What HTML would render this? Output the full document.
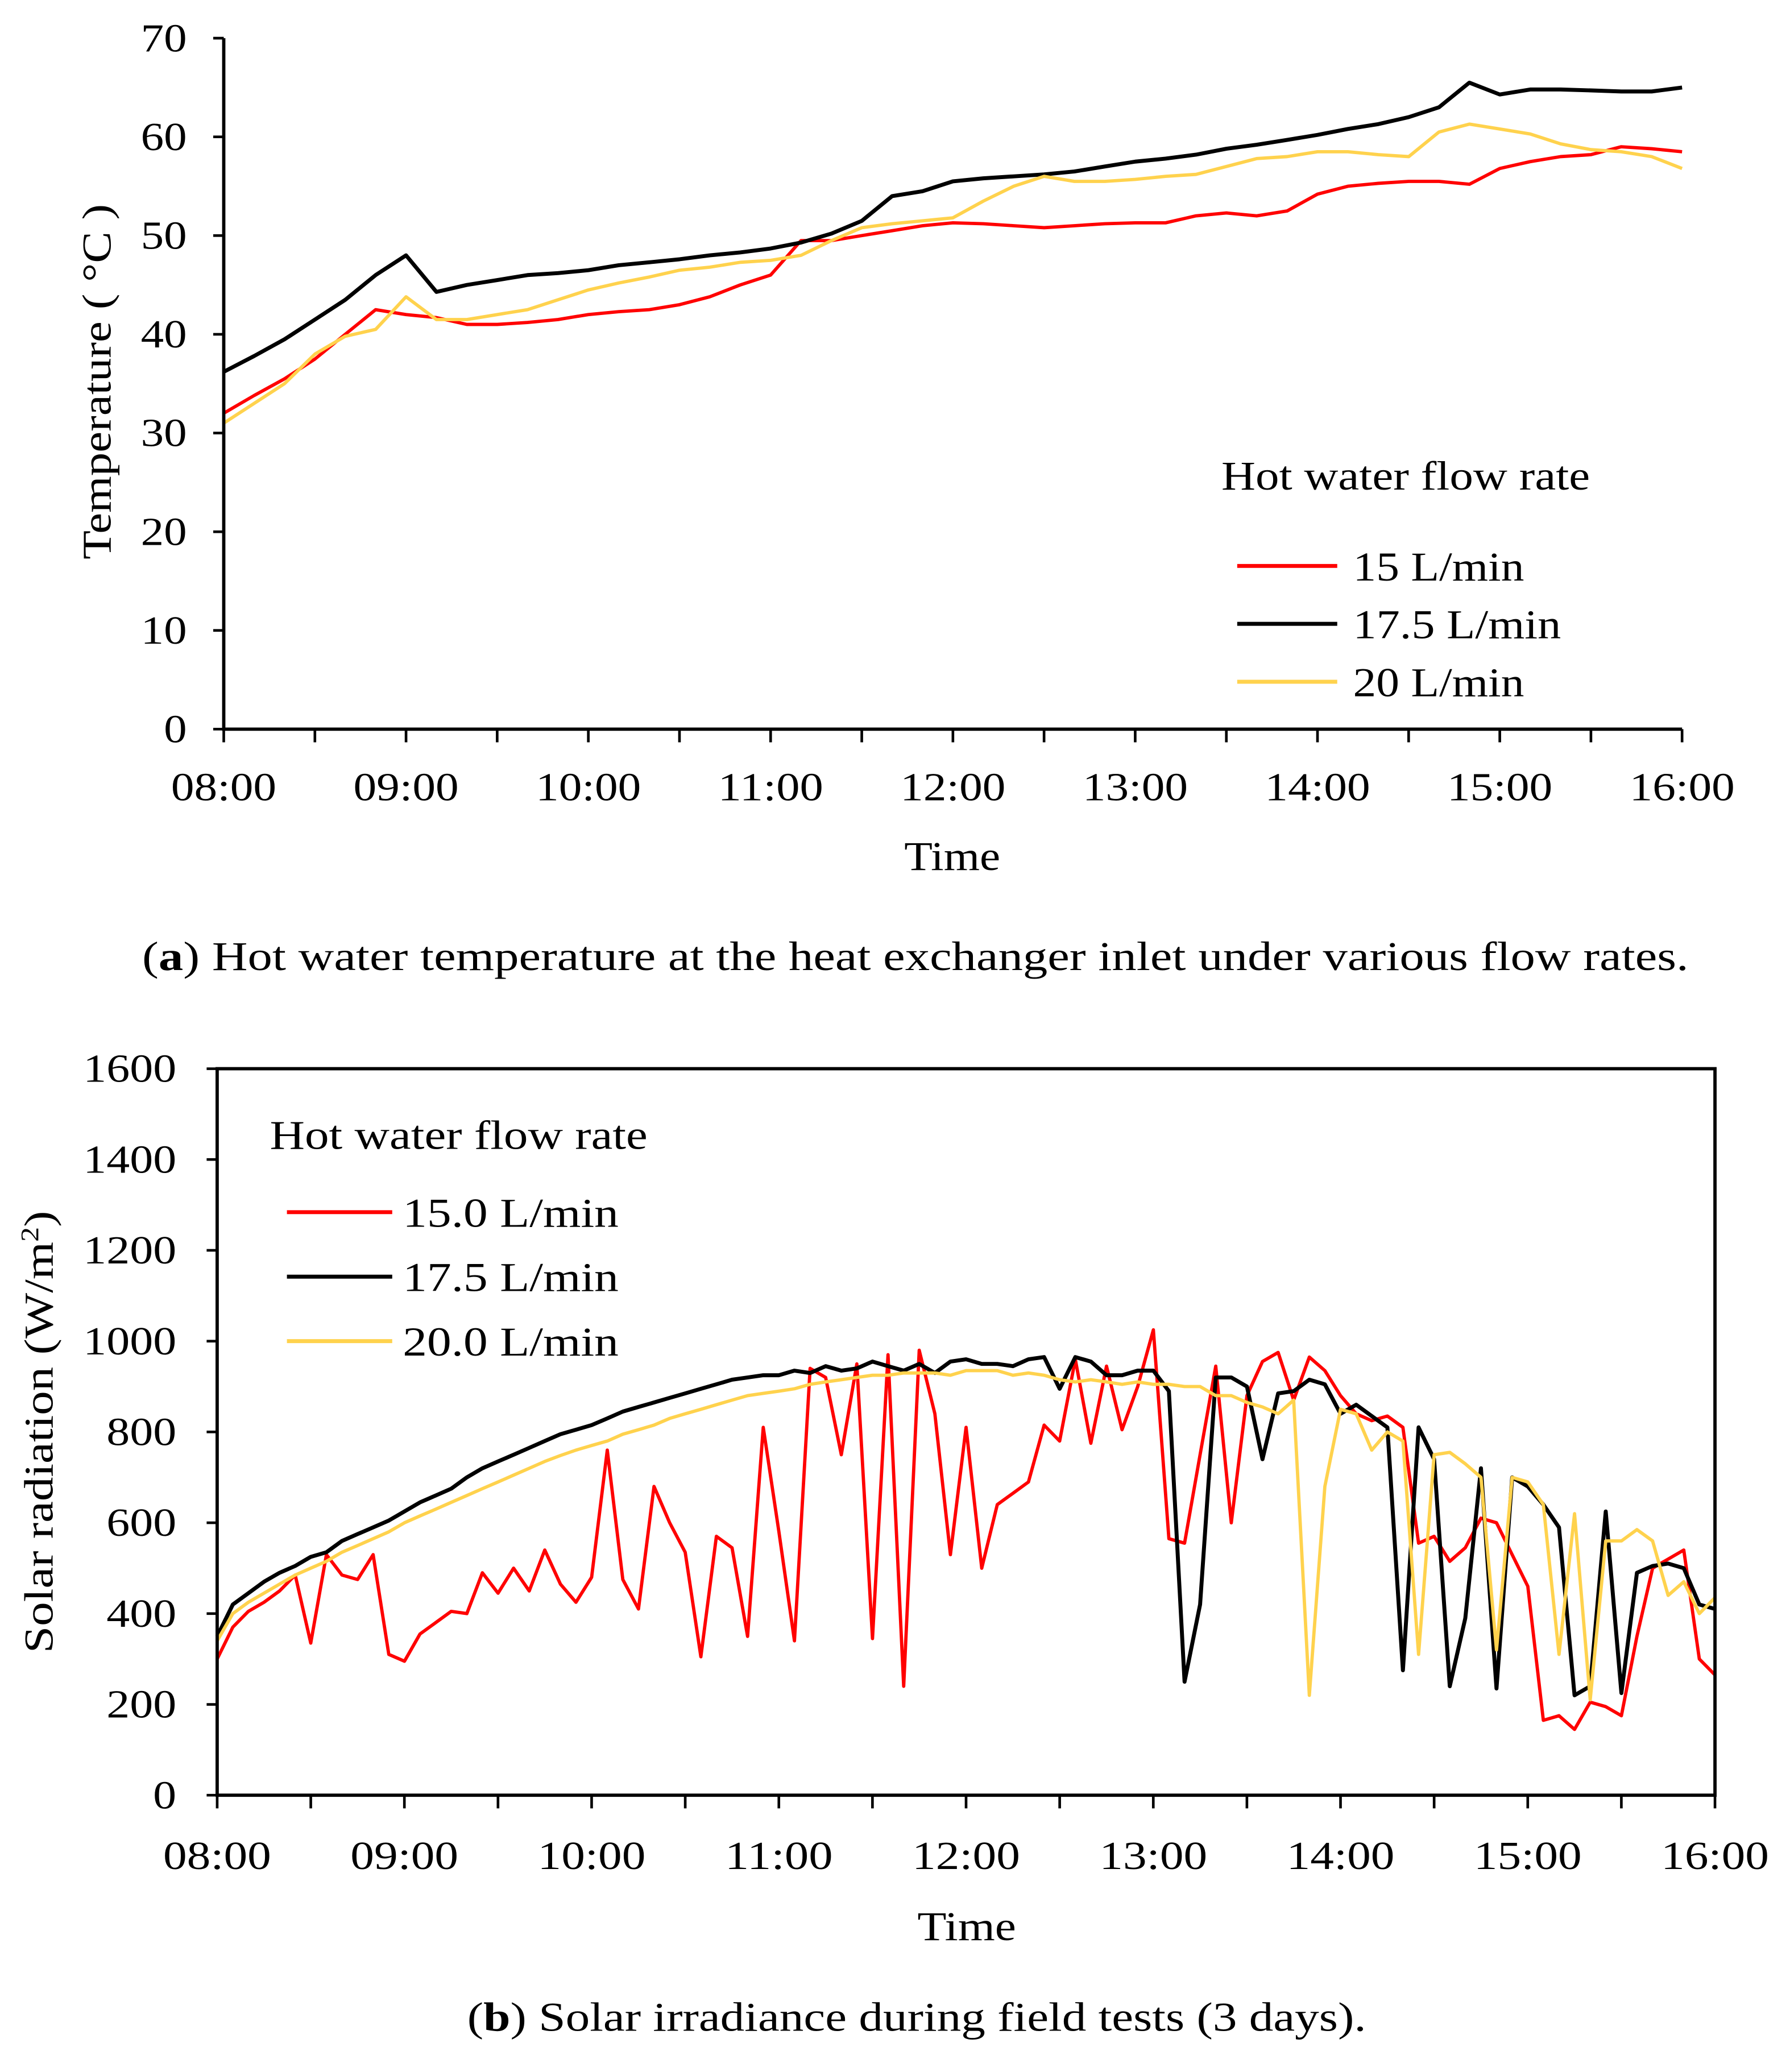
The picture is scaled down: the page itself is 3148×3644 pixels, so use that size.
<!DOCTYPE html>
<html><head><meta charset="utf-8"><style>
html,body{margin:0;padding:0;background:#fff;}
svg{display:block;}
text{font-family:"Liberation Serif","DejaVu Serif",serif;fill:#000;}
</style></head><body>
<svg id="root" width="3148" height="3644" viewBox="0 0 1360 1574.3" preserveAspectRatio="none" xmlns="http://www.w3.org/2000/svg">
<g id="chartA"></g>
<g id="chartB"></g>
<text x="108" y="737" font-size="31" textLength="1175" lengthAdjust="spacingAndGlyphs">(<tspan font-weight="bold">a</tspan>) Hot water temperature at the heat exchanger inlet under various flow rates.</text>
<text x="355" y="1543" font-size="31" textLength="683" lengthAdjust="spacingAndGlyphs">(<tspan font-weight="bold">b</tspan>) Solar irradiance during field tests (3 days).</text>
</svg>
<script>
// ---- Chart A data (10-minute steps from 08:00) ----
const aTimeLabels = ["08:00","09:00","10:00","11:00","12:00","13:00","14:00","15:00","16:00"];
const aYTicks = [0,10,20,30,40,50,60,70];
const aRed = [32,33.8,35.5,37.5,40,42.5,42,41.7,41,41,41.2,41.5,42,42.3,42.5,43,43.8,45,46,49.5,49.5,50,50.5,51,51.3,51.2,51,50.8,51,51.2,51.3,51.3,52,52.3,52,52.5,54.2,55,55.3,55.5,55.5,55.2,56.8,57.5,58,58.2,59,58.8,58.5];
const aBlack = [36.2,37.8,39.5,41.5,43.5,46,48,44.3,45,45.5,46,46.2,46.5,47,47.3,47.6,48,48.3,48.7,49.3,50.2,51.5,54,54.5,55.5,55.8,56,56.2,56.5,57,57.5,57.8,58.2,58.8,59.2,59.7,60.2,60.8,61.3,62,63,65.5,64.3,64.8,64.8,64.7,64.6,64.6,65];
const aYellow = [31,33,35,38,39.8,40.5,43.8,41.5,41.5,42,42.5,43.5,44.5,45.2,45.8,46.5,46.8,47.3,47.5,48,49.5,50.8,51.2,51.5,51.8,53.5,55,56,55.5,55.5,55.7,56,56.2,57,57.8,58,58.5,58.5,58.2,58,60.5,61.3,60.8,60.3,59.3,58.7,58.5,58,56.8];
const aSeriesNames = ["15 L/min","17.5 L/min","20 L/min"];

// ---- Chart B data (5-minute steps from 08:00) ----
const bTimeLabels = ["08:00","09:00","10:00","11:00","12:00","13:00","14:00","15:00","16:00"];
const bYTicks = [0,200,400,600,800,1000,1200,1400,1600];
const bRed = [300,370,405,425,450,485,335,530,485,475,530,310,
 295,355,380,405,400,490,445,500,450,540,465,425,
 480,760,475,410,680,600,535,305,570,545,350,810,
 580,340,940,920,750,950,345,970,240,980,840,530,
 810,500,640,665,690,815,780,960,775,945,805,900,
 1025,565,555,750,945,600,880,955,975,870,965,935,
 880,840,825,835,810,555,570,515,545,610,600,530,
 460,165,175,145,205,195,175,350,500,520,540,300,265];
const bBlack = [350,420,445,470,490,505,525,535,560,575,590,605,
 625,645,660,675,700,720,735,750,765,780,795,805,
 815,830,845,855,865,875,885,895,905,915,920,925,
 925,935,930,945,935,940,955,945,935,950,930,955,
 960,950,950,945,960,965,895,965,955,925,925,935,
 935,890,250,420,920,920,900,740,885,890,915,905,
 840,860,835,810,275,810,740,240,390,720,235,700,
 680,640,590,220,240,625,225,490,505,510,500,420,410];
const bYellow = [340,400,425,445,465,485,500,515,535,550,565,580,
 600,615,630,645,660,675,690,705,720,735,748,760,
 770,780,795,805,815,830,840,850,860,870,880,885,
 890,895,905,910,915,920,925,925,930,930,930,925,
 935,935,935,925,930,925,915,910,915,910,905,910,
 905,905,900,900,880,880,865,855,840,870,220,680,
 850,840,760,800,780,310,750,755,730,700,320,700,
 690,640,310,620,210,560,560,585,560,440,470,400,435];
const bSeriesNames = ["15.0 L/min","17.5 L/min","20.0 L/min"];

const NS="http://www.w3.org/2000/svg";
function mk(parent,tag,attrs){const e=document.createElementNS(NS,tag);for(const k in attrs)e.setAttribute(k,attrs[k]);parent.appendChild(e);return e;}
const colors=["#ff0000","#000000","#ffd24d"];

// ===== Chart A =====
(function(){
 const g=document.getElementById('chartA');
 const x0=170,x1=1278,y0=554,y1=29;
 const xs=h=>x0+(h/8)*(x1-x0);
 const ys=v=>y0-(v/70)*(y0-y1);
 const series=[aRed,aBlack,aYellow];
 series.forEach((arr,si)=>{
  const d=arr.map((v,i)=>(i?'L':'M')+xs(i/6).toFixed(1)+','+ys(v).toFixed(1)).join('');
  const p=mk(g,'path',{d:d,fill:'none',stroke:colors[si],'stroke-width':si==1?3:2.5,'stroke-linejoin':'round'});
  
  
 });
 const ax=mk(g,'path',{d:`M${x0},${y1}L${x0},${y0}L${x1},${y0}`,fill:'none',stroke:'#000','stroke-width':2.5});
 
 
 aYTicks.forEach(v=>{
  mk(g,'line',{x1:x0-8,x2:x0,y1:ys(v),y2:ys(v),stroke:'#000','stroke-width':2});
  const t=mk(g,'text',{x:x0-28,y:ys(v)+10,'font-size':30,'text-anchor':'end',textLength:String(v).length*17.5,lengthAdjust:'spacingAndGlyphs'});t.textContent=v;
  
  
 });
 for(let i=0;i<=16;i++){mk(g,'line',{x1:xs(i/2),x2:xs(i/2),y1:y0,y2:y0+10,stroke:'#000','stroke-width':2});}
 aTimeLabels.forEach((s,i)=>{
  const t=mk(g,'text',{x:xs(i)-40,y:608,'font-size':30,textLength:80,lengthAdjust:'spacingAndGlyphs'});t.textContent=s;
  
  
 });
 const xt=mk(g,'text',{x:687,y:661,'font-size':31,textLength:73,lengthAdjust:'spacingAndGlyphs'});xt.textContent='Time';
 
 
 const yt=mk(g,'text',{x:-135,y:0,'font-size':31,textLength:270,lengthAdjust:'spacingAndGlyphs',transform:'translate(84,290) rotate(-90)'});yt.textContent='Temperature ( °C )';
 
 
 const lt=mk(g,'text',{x:928,y:372,'font-size':31,textLength:280,lengthAdjust:'spacingAndGlyphs'});lt.textContent='Hot water flow rate';
 
 
 const aw=[130,158,130];
 aSeriesNames.forEach((s,i)=>{
  const y=430+i*44;
  const l=mk(g,'line',{x1:940,x2:1016,y1:y,y2:y,stroke:colors[i],'stroke-width':3});
  
  
  const t=mk(g,'text',{x:1028,y:y+11,'font-size':31,textLength:aw[i],lengthAdjust:'spacingAndGlyphs'});t.textContent=s;
  
  
 });
})();

// ===== Chart B =====
(function(){
 const g=document.getElementById('chartB');
 const x0=165,x1=1303,y0=1364,y1=812;
 const xs=h=>x0+(h/8)*(x1-x0);
 const ys=v=>y0-(v/1600)*(y0-y1);
 const series=[bRed,bBlack,bYellow];
 series.forEach((arr,si)=>{
  const d=arr.map((v,i)=>(i?'L':'M')+xs(i/12).toFixed(1)+','+ys(v).toFixed(1)).join('');
  const p=mk(g,'path',{d:d,fill:'none',stroke:colors[si],'stroke-width':si==1?3:2.5,'stroke-linejoin':'round'});
  
  
 });
 const fr=mk(g,'rect',{x:x0,y:y1,width:x1-x0,height:y0-y1,fill:'none',stroke:'#000','stroke-width':2.5});
 
 
 bYTicks.forEach(v=>{
  mk(g,'line',{x1:x0-8,x2:x0,y1:ys(v),y2:ys(v),stroke:'#000','stroke-width':2});
  const t=mk(g,'text',{x:x0-31,y:ys(v)+10,'font-size':30,'text-anchor':'end',textLength:String(v).length*17.7,lengthAdjust:'spacingAndGlyphs'});t.textContent=v;
  
  
 });
 for(let i=0;i<=16;i++){mk(g,'line',{x1:xs(i/2),x2:xs(i/2),y1:y0,y2:y0+10,stroke:'#000','stroke-width':2});}
 bTimeLabels.forEach((s,i)=>{
  const t=mk(g,'text',{x:xs(i)-41,y:1420,'font-size':30,textLength:82,lengthAdjust:'spacingAndGlyphs'});t.textContent=s;
  
  
 });
 const xt=mk(g,'text',{x:697,y:1474,'font-size':31,textLength:75,lengthAdjust:'spacingAndGlyphs'});xt.textContent='Time';
 
 
 const yt=mk(g,'text',{x:-168,y:0,'font-size':31,textLength:336,lengthAdjust:'spacingAndGlyphs',transform:'translate(40,1088) rotate(-90)'});
 yt.innerHTML='Solar radiation (W/m<tspan font-size="19" dy="-11">2</tspan><tspan dy="11">)</tspan>';
 
 
 const lt=mk(g,'text',{x:205,y:873,'font-size':31,textLength:287,lengthAdjust:'spacingAndGlyphs'});lt.textContent='Hot water flow rate';
 
 
 bSeriesNames.forEach((s,i)=>{
  const y=921+i*49;
  const l=mk(g,'line',{x1:218,x2:298,y1:y,y2:y,stroke:colors[i],'stroke-width':3});
  
  
  const t=mk(g,'text',{x:306,y:y+11,'font-size':31,textLength:164,lengthAdjust:'spacingAndGlyphs'});t.textContent=s;
  
  
 });
})();
</script>
</body></html>
